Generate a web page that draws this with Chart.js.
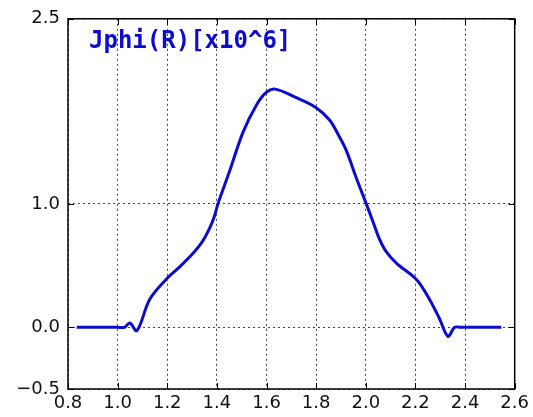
<!DOCTYPE html>
<html>
<head>
<meta charset="utf-8">
<script src="https://cdn.jsdelivr.net/npm/chart.js@4/dist/chart.umd.min.js"></script>
<style>
html,body{margin:0;padding:0;background:#fff;}
#wrap{width:533px;height:417px;position:relative;}
</style>
</head>
<body>
<div id="wrap"><canvas id="c" width="533" height="417"></canvas></div>
<script>
const rValues = [0.835, 1.00, 1.028, 1.049, 1.078, 1.129, 1.196, 1.25, 1.304, 1.34, 1.37, 1.39, 1.404, 1.452, 1.505, 1.559, 1.60, 1.635, 1.715, 1.80, 1.854, 1.892, 1.922, 1.96, 2.002, 2.03, 2.056, 2.08, 2.123, 2.204, 2.257, 2.298, 2.331, 2.358, 2.38, 2.546];
const jphiValues = [0, 0, 0, 0.035, -0.027, 0.226, 0.39, 0.49, 0.60, 0.69, 0.80, 0.90, 1.0, 1.27, 1.58, 1.80, 1.905, 1.93, 1.865, 1.78, 1.68, 1.55, 1.43, 1.22, 1.0, 0.85, 0.71, 0.62, 0.52, 0.387, 0.226, 0.065, -0.073, 0, 0, 0];
const xTicks = [0.8, 1.0, 1.2, 1.4, 1.6, 1.8, 2.0, 2.2, 2.4, 2.6];
const yTicks = [-0.5, 0.0, 1.0, 2.5];
const titleText = 'Jphi(R)[x10^6]';

const lineColor = '#0c0cd0';
const fmt = v => (v < 0 ? '\u2212' + Math.abs(v).toFixed(1) : v.toFixed(1));

const framePlugin = {
  id: 'frame',
  afterDraw(chart) {
    const {ctx, chartArea: a, scales} = chart;
    ctx.save();
    ctx.strokeStyle = '#000';
    ctx.lineWidth = 1;
    const L = 6;
    ctx.beginPath();
    xTicks.forEach(v => {
      const p = Math.round(scales.x.getPixelForValue(v)) + 0.5;
      ctx.moveTo(p, a.bottom); ctx.lineTo(p, a.bottom - L);
      ctx.moveTo(p, a.top); ctx.lineTo(p, a.top + L);
    });
    yTicks.forEach(v => {
      const p = Math.round(scales.y.getPixelForValue(v)) + 0.5;
      ctx.moveTo(a.left, p); ctx.lineTo(a.left + L, p);
      ctx.moveTo(a.right, p); ctx.lineTo(a.right - L, p);
    });
    ctx.stroke();
    ctx.lineWidth = 1.5;
    ctx.strokeRect(a.left, a.top, a.right - a.left, a.bottom - a.top);
    ctx.fillStyle = lineColor;
    ctx.font = 'bold 24px "DejaVu Sans Mono"';
    ctx.textBaseline = 'alphabetic';
    ctx.textAlign = 'left';
    ctx.fillText(titleText, a.left + 21, 48);
    ctx.restore();
  }
};

new Chart(document.getElementById('c'), {
  type: 'line',
  data: {
    datasets: [{
      data: rValues.map((r, i) => ({x: r, y: jphiValues[i]})),
      borderColor: lineColor,
      borderWidth: 3,
      pointRadius: 0,
      fill: false,
      tension: 0.35
    }]
  },
  options: {
    responsive: false,
    animation: false,
    layout: {padding: {top: 17, right: 17, left: 0, bottom: 0}},
    plugins: {legend: {display: false}, tooltip: {enabled: false}, title: {display: false}},
    scales: {
      x: {
        type: 'linear',
        min: 0.8, max: 2.6,
        afterBuildTicks: s => { s.ticks = xTicks.map(v => ({value: v})); },
        afterFit: s => { s.height = 28; },
        ticks: {
          callback: v => fmt(v),
          font: {family: 'DejaVu Sans', size: 18},
          color: '#111',
          padding: 4,
          maxRotation: 0,
          autoSkip: false
        },
        grid: {color: '#444', lineWidth: 1, drawTicks: false},
        border: {display: false, dash: [2, 3]}
      },
      y: {
        type: 'linear',
        min: -0.5, max: 2.5,
        afterBuildTicks: s => { s.ticks = yTicks.map(v => ({value: v})); },
        afterFit: s => { s.width = 68; },
        ticks: {
          callback: v => fmt(v),
          font: {family: 'DejaVu Sans', size: 18},
          color: '#111',
          padding: 8,
          autoSkip: false
        },
        grid: {color: '#444', lineWidth: 1, drawTicks: false},
        border: {display: false, dash: [2, 3]}
      }
    }
  },
  plugins: [framePlugin]
});
</script>
</body>
</html>
